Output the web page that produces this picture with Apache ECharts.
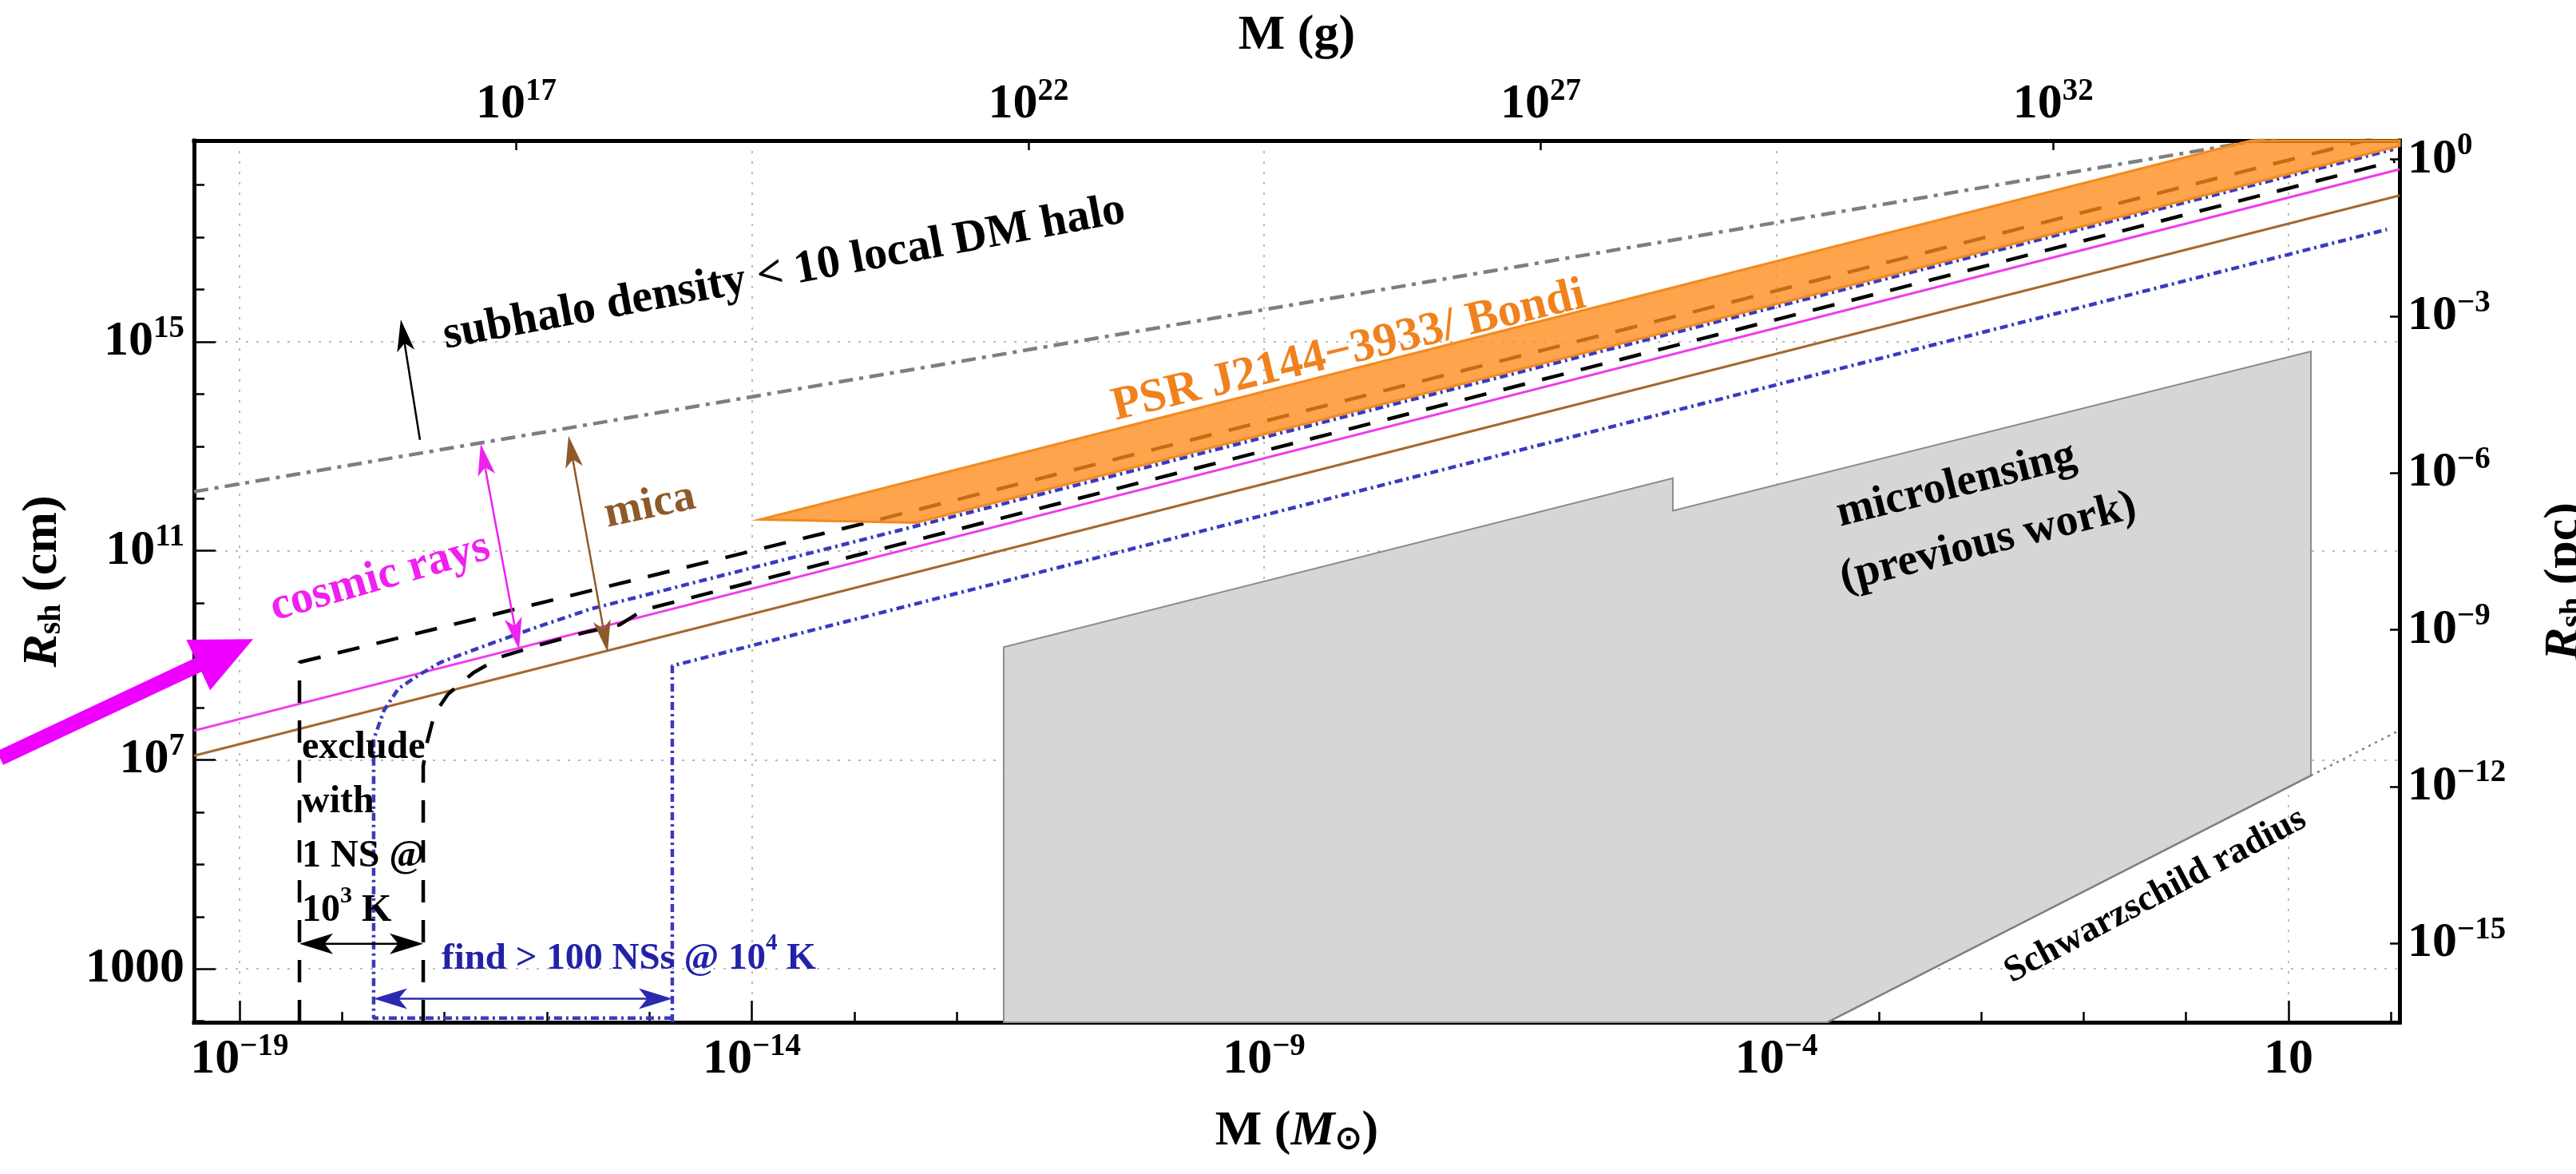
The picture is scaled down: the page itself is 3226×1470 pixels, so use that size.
<!DOCTYPE html>
<html><head><meta charset="utf-8">
<script src="https://cdn.jsdelivr.net/npm/echarts@6/dist/echarts.min.js"></script>
<style>html,body{margin:0;padding:0;background:#fff}#c{width:3226px;height:1470px}</style>
</head><body><div id="c"></div>
<script>
// ---------- constants (unit conversions) ----------
const LOG_MSUN = 33.2986;   // log10(M_sun / g)
const LOG_PC = 18.4894;     // log10(pc / cm)
const X_MIN = -19.444, X_MAX = 2.083;   // log10(M / M_sun)
const Y_MIN = 1.98, Y_MAX = 18.85;      // log10(R / cm)

// ---------- tick values (exponents) ----------
const X_TICKS_MINOR = [-19,-18,-17,-16,-15,-14,-13,-12,-11,-10,-9,-8,-7,-6,-5,-4,-3,-2,-1,0,1,2];
const X_TICKS_MAJOR = [-19,-14,-9,-4,1];
const XG_TICKS = [17,22,27,32];
const Y_TICKS_MINOR = [2,3,4,5,6,7,8,9,10,11,12,13,14,15,16,17,18];
const Y_TICKS_MAJOR = [3,7,11,15];
const YPC_TICKS = [0,-3,-6,-9,-12,-15];

// ---------- curves: log10(M/Msun) , log10(R/cm) ----------
const SUBHALO_M = [-19.444, 2.083];
const SUBHALO_R = [12.132, 19.31];
const COSMIC_M = [-19.444, 2.083];
const COSMIC_R = [7.56, 18.30];
const MICA_M = [-19.444, 2.083];
const MICA_R = [7.08, 17.80];
const NS1_UP_M = [-18.415, -18.415, -12.944, 2.083];
const NS1_UP_R = [1.98, 8.867, 11.506, 19.02];
const NS1_LO_M = [-17.207, -17.207, -17.168, -17.098, -16.966, -16.716, -16.443, -16.124, -15.641, -15.290, -15.056, 2.04];
const NS1_LO_R = [1.98, 6.884, 7.342, 7.876, 8.257, 8.669, 8.974, 9.172, 9.432, 9.584, 9.87, 18.46];
const NS100_UP_M = [-14.776, -17.691, -17.691, -17.589, -17.449, -17.239, -17.036, -16.685, -16.405, -16.124, -15.571, 2.02];
const NS100_UP_R = [2.06, 2.06, 7.388, 7.952, 8.364, 8.638, 8.867, 9.127, 9.325, 9.523, 9.888, 18.68];
const NS100_LO_M = [-14.776, -14.776, 1.96];
const NS100_LO_R = [1.98, 8.80, 17.15];
const PSR_M = [-13.918, -12.398, 2.083, 2.083, 0.635];
const PSR_R = [11.598, 11.537, 18.75, 18.85, 18.85];
const MICRO_M = [-11.541, -11.541, -5.010, -5.010, 1.218, 1.218, -3.50];
const MICRO_R = [1.98, 9.157, 12.391, 11.766, 14.817, 6.70, 1.98];
const SCHW_M = [-3.50, 1.218];
const SCHW_R = [1.98, 6.70];
const SCHW_EXT_M = [1.218, 2.083];
const SCHW_EXT_R = [6.70, 7.565];

// ---------- annotation arrows [M1, R1, M2, R2] ----------
const ARROW_DATA = [
  [-17.239, 13.124, -17.426, 15.427],   // subhalo
  [-16.646, 13.047, -16.272, 9.111],    // cosmic rays
  [-15.789, 13.20, -15.407, 9.06],      // mica
  [-18.415, 3.482, -17.207, 3.482],     // 1 NS
  [-17.691, 2.429, -14.776, 2.429],     // 100 NSs
  [-21.338, 7.036, -18.867, 9.31]       // big pointer
];

const FONT = '"Liberation Serif", "Times New Roman", serif';
const ARROW_STYLE = [
  {color:'#000', lw:2.5, hl:40, hw:22, notch:0.75, both:false},
  {color:'#EE22EE', lw:2.5, hl:40, hw:22, notch:0.75, both:true},
  {color:'#8E5A2A', lw:2.5, hl:40, hw:22, notch:0.75, both:true},
  {color:'#000', lw:2.5, hl:42, hw:26, notch:0.75, both:true},
  {color:'#2A2AB0', lw:2.5, hl:42, hw:26, notch:0.75, both:true},
  {color:'#EE00FF', lw:19, hl:76, hw:70, notch:1.0, both:false}
];

// ---------- text annotations ----------
const tRich = (color, size) => ({
  t:{fontSize:size, fontWeight:'bold', fontFamily:FONT, fill:color, color:color, lineHeight:68},
  s:{fontSize:Math.round(size*0.62), fontWeight:'bold', fontFamily:FONT, fill:color, color:color, verticalAlign:'top', lineHeight:68}
});
const TEXTS = [
  {text:'subhalo density < 10 local DM halo', at:[-13.684, 16.312], rot:10.5, color:'#000', size:58},
  {text:'PSR J2144\u22123933/ Bondi', at:[-8.174, 14.817], rot:13.5, color:'#F0821E', size:59},
  {text:'mica', at:[-14.994, 11.857], rot:12, color:'#8E5A2A', size:56},
  {text:'cosmic rays', at:[-17.628, 10.484], rot:16, color:'#F020F0', size:57},
  {text:'microlensing', at:[-2.242, 12.254], rot:14, color:'#000', size:56},
  {text:'(previous work)', at:[-1.931, 11.156], rot:14, color:'#000', size:56},
  {text:'Schwarzschild radius', at:[-0.30, 4.40], rot:28, color:'#000', size:46},
  {text:'{t|exclude}\n{t|with}\n{t|1 NS @}\n{t|10}{s|3}{t| K}', at:[-18.392, 5.664], rot:0, color:'#000', size:48, align:'left', rich:true},
  {text:'{t|find > 100 NSs @ 10}{s|4}{t| K}', at:[-17.028, 3.192], rot:0, color:'#2222A8', size:47, align:'left', rich:true}
];

// ---------- helpers ----------
const zip = (M, R) => M.map((m, i) => [m, R[i]]);
const supTxt = v => (v < 0 ? '\u2212' + (-v) : '' + v);
const pow10 = v => (v === 1 ? '{b|10}' : '{b|10}{s|' + supTxt(v) + '}');
const LABEL_RICH = {
  b:{fontSize:62, fontWeight:'bold', fontFamily:FONT, color:'#000', lineHeight:62, verticalAlign:'bottom'},
  s:{fontSize:39, fontWeight:'bold', fontFamily:FONT, color:'#000', verticalAlign:'bottom', lineHeight:30, padding:[0,0,28,0]}
};
const NAME_RICH = {
  n:{fontSize:62, fontWeight:'bold', fontFamily:FONT, color:'#000'},
  i:{fontSize:62, fontWeight:'bold', fontStyle:'italic', fontFamily:FONT, color:'#000'},
  sub:{fontSize:40, fontWeight:'bold', fontFamily:FONT, color:'#000', verticalAlign:'bottom'}
};
const AX_LINE = {show:true, onZero:false, lineStyle:{color:'#000', width:5, cap:'square'}};
const TICK_STYLE = {color:'#000', width:2.5};
const GRID_LINE = {show:true, lineStyle:{color:'#BBBBBB', width:2, type:[3,10]}};

function lineSeries(M, R, color, width, type, z) {
  return {type:'line', data:zip(M, R), showSymbol:false, symbol:'none', silent:true,
    lineStyle:{color:color, width:width, type:type}, z:z, clip:true};
}
function polySeries(M, R, fill, stroke, lw, z) {
  return {type:'custom', coordinateSystem:'cartesian2d', data:zip(M, R), silent:true, z:z,
    renderItem:function(params, api){
      if (params.dataIndex !== 0) return null;
      const pts = M.map((m, i) => api.coord([m, R[i]]));
      return {type:'polygon', shape:{points:pts}, style:{fill:fill, stroke:stroke, lineWidth:lw}};
    }};
}

const option = {
  animation:false,
  backgroundColor:'#fff',
  grid:{left:243, right:221, top:176, bottom:190, containLabel:false, outerBoundsMode:'none'},
  xAxis:[
    {type:'value', position:'bottom', min:X_MIN, max:X_MAX, axisLine:AX_LINE,
      axisTick:{show:true, inside:true, length:13, customValues:X_TICKS_MINOR, lineStyle:TICK_STYLE},
      axisLabel:{show:true, customValues:X_TICKS_MAJOR, formatter:pow10, margin:16, rich:LABEL_RICH},
      splitLine:{show:false},
      name:'{n|M (}{i|M}{sub|\u2299}{n|)}', nameLocation:'middle', nameGap:106, nameMoveOverlap:false,
      nameTextStyle:{rich:NAME_RICH}},
    {type:'value', position:'bottom', min:X_MIN, max:X_MAX, axisLine:{show:false, onZero:false},
      axisTick:{show:true, inside:true, length:27, customValues:X_TICKS_MAJOR, lineStyle:TICK_STYLE},
      axisLabel:{show:false}, splitLine:GRID_LINE},
    {type:'value', position:'top', min:X_MIN + LOG_MSUN, max:X_MAX + LOG_MSUN, axisLine:AX_LINE,
      axisTick:{show:true, inside:true, length:12, customValues:XG_TICKS, lineStyle:TICK_STYLE},
      axisLabel:{show:true, customValues:XG_TICKS, formatter:pow10, margin:14, rich:LABEL_RICH},
      splitLine:{show:false},
      name:'{n|M (g)}', nameLocation:'middle', nameGap:100, nameMoveOverlap:false,
      nameTextStyle:{rich:NAME_RICH}}
  ],
  yAxis:[
    {type:'value', position:'left', min:Y_MIN, max:Y_MAX, axisLine:AX_LINE,
      axisTick:{show:true, inside:true, length:13, customValues:Y_TICKS_MINOR, lineStyle:TICK_STYLE},
      axisLabel:{show:true, customValues:Y_TICKS_MAJOR, margin:12, rich:LABEL_RICH,
        formatter:v => (v === 3 ? '{b|1000}' : pow10(v))},
      splitLine:{show:false},
      name:'{i|R}{sub|sh}{n| (cm)}', nameLocation:'middle', nameGap:158, nameRotate:90, nameMoveOverlap:false,
      nameTextStyle:{rich:NAME_RICH}},
    {type:'value', position:'left', min:Y_MIN, max:Y_MAX, axisLine:{show:false, onZero:false},
      axisTick:{show:true, inside:true, length:27, customValues:Y_TICKS_MAJOR, lineStyle:TICK_STYLE},
      axisLabel:{show:false}, splitLine:GRID_LINE},
    {type:'value', position:'right', min:Y_MIN - LOG_PC, max:Y_MAX - LOG_PC, axisLine:AX_LINE,
      axisTick:{show:true, inside:true, length:12, customValues:YPC_TICKS, lineStyle:TICK_STYLE},
      axisLabel:{show:true, customValues:YPC_TICKS, formatter:pow10, margin:10, rich:LABEL_RICH},
      splitLine:{show:false},
      name:'{i|R}{sub|sh}{n| (pc)}', nameLocation:'middle', nameGap:176, nameRotate:90, nameMoveOverlap:false,
      nameTextStyle:{rich:NAME_RICH}}
  ],
  series:[
    polySeries(MICRO_M, MICRO_R, '#D6D6D6', '#8C8C8C', 2, 1),
    lineSeries(SCHW_M, SCHW_R, '#808080', 2.5, 'solid', 2),
    lineSeries(SCHW_EXT_M, SCHW_EXT_R, '#808080', 2.5, [3,6], 2),
    lineSeries(SUBHALO_M, SUBHALO_R, '#7E7E7E', 4.5, [18,8,5,8], 3),
    lineSeries(MICA_M, MICA_R, '#A5682F', 3, 'solid', 3),
    lineSeries(COSMIC_M, COSMIC_R, '#EE3BEE', 3, 'solid', 3),
    lineSeries(NS100_UP_M, NS100_UP_R, '#3A3AC0', 4.5, [10,5,3,5], 4),
    lineSeries(NS100_LO_M, NS100_LO_R, '#3A3AC0', 4.5, [10,5,3,5], 4),
    lineSeries(NS1_UP_M, NS1_UP_R, '#000', 4.5, [28,22], 4),
    lineSeries(NS1_LO_M, NS1_LO_R, '#000', 4.5, [28,22], 4),
    polySeries(PSR_M, PSR_R, 'rgba(253,139,25,0.78)', '#F28A20', 3, 5),
    {type:'custom', coordinateSystem:'cartesian2d', data:ARROW_DATA, silent:true, z:6, clip:false,
      renderItem:function(params, api){
        const st = ARROW_STYLE[params.dataIndex];
        const a = api.coord([api.value(0), api.value(1)]);
        const b = api.coord([api.value(2), api.value(3)]);
        const dx = b[0]-a[0], dy = b[1]-a[1], L = Math.hypot(dx, dy);
        const ux = dx/L, uy = dy/L, px = -uy, py = ux;
        const head = (tip, d) => {
          const bx = tip[0]-d[0]*st.hl, by = tip[1]-d[1]*st.hl;
          const nx = tip[0]-d[0]*st.hl*st.notch, ny = tip[1]-d[1]*st.hl*st.notch;
          return {type:'polygon', shape:{points:[[tip[0],tip[1]],[bx+px*st.hw/2, by+py*st.hw/2],[nx,ny],[bx-px*st.hw/2, by-py*st.hw/2]]},
            style:{fill:st.color}};
        };
        const children = [];
        let s = a;
        if (st.both) { s = [a[0]+ux*st.hl*0.7, a[1]+uy*st.hl*0.7]; children.push(head(a, [-ux,-uy])); }
        const e = [b[0]-ux*st.hl*0.7, b[1]-uy*st.hl*0.7];
        children.push(head(b, [ux,uy]));
        children.unshift({type:'line', shape:{x1:s[0], y1:s[1], x2:e[0], y2:e[1]}, style:{stroke:st.color, lineWidth:st.lw}});
        return {type:'group', children:children};
      }},
    {type:'custom', coordinateSystem:'cartesian2d', data:TEXTS.map(t => t.at), silent:true, z:7, clip:false,
      renderItem:function(params, api){
        const t = TEXTS[params.dataIndex];
        const p = api.coord([api.value(0), api.value(1)]);
        const style = {text:t.text, fill:t.color, fontSize:t.size, fontWeight:'bold', fontFamily:FONT,
          align:t.align || 'center', verticalAlign:'middle'};
        if (t.rich) style.rich = tRich(t.color, t.size);
        return {type:'text', x:p[0], y:p[1], rotation:t.rot*Math.PI/180, style:style};
      }}
  ]
};
const chart = echarts.init(document.getElementById('c'), null, {renderer:'canvas'});
chart.setOption(option);
</script></body></html>
